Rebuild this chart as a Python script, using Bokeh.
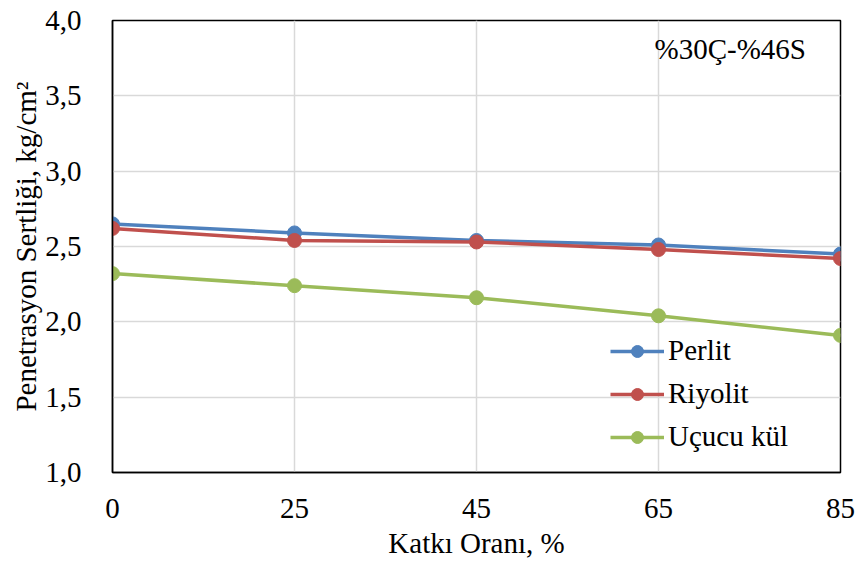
from bokeh.plotting import figure
from bokeh.models import Label, FixedTicker, Legend, LegendItem, Range1d
from bokeh.embed import file_html
from bokeh.resources import INLINE

categories = ["0", "25", "45", "65", "85"]
perlit = [2.65, 2.59, 2.54, 2.51, 2.45]
riyolit = [2.62, 2.54, 2.53, 2.48, 2.42]
ucucu_kul = [2.32, 2.24, 2.16, 2.04, 1.91]
y_ticks = [1.0, 1.5, 2.0, 2.5, 3.0, 3.5, 4.0]
y_tick_labels = ["1,0", "1,5", "2,0", "2,5", "3,0", "3,5", "4,0"]
series_names = ["Perlit", "Riyolit", "Uçucu kül"]
colors = ["#4F81BD", "#C0504D", "#9BBB59"]

FONT = "Liberation Serif"
xs = list(range(len(categories)))

p = figure(width=855, height=563, output_backend="svg", toolbar_location=None,
           x_range=Range1d(0, len(categories) - 1), y_range=Range1d(1.0, 4.0),
           min_border_left=112, min_border_right=15, min_border_top=20, min_border_bottom=91)

items = []
for name, vals, c in zip(series_names, [perlit, riyolit, ucucu_kul], colors):
    r1 = p.line(xs, vals, line_color=c, line_width=3.5)
    r2 = p.scatter(xs, vals, size=14, fill_color=c, line_color=c)
    items.append(LegendItem(label=name, renderers=[r1, r2]))

legend = Legend(items=items, location=(498, 19), background_fill_alpha=0,
                border_line_alpha=0, label_text_font=FONT, label_text_font_size="29px",
                label_text_color="black",
                glyph_width=54, glyph_height=30, label_height=30, spacing=10,
                label_standoff=4, padding=0, margin=0)
p.add_layout(legend, "center")

p.xaxis.ticker = FixedTicker(ticks=xs)
p.xaxis.major_label_overrides = {i: c for i, c in enumerate(categories)}
p.yaxis.ticker = FixedTicker(ticks=y_ticks)
p.yaxis.major_label_overrides = {t: l for t, l in zip(y_ticks, y_tick_labels)}

for ax in (p.xaxis, p.yaxis):
    ax.major_tick_line_color = None
    ax.minor_tick_line_color = None
    ax.axis_line_color = "black"
    ax.axis_line_width = 1.5
    ax.major_label_text_font = FONT
    ax.major_label_text_font_size = "29px"
    ax.major_label_text_color = "black"
    ax.axis_label_text_font = FONT
    ax.axis_label_text_font_size = "29px"
    ax.axis_label_text_font_style = "normal"
    ax.axis_label_text_color = "black"

p.xaxis.major_label_standoff = 20
p.yaxis.major_label_standoff = 25
p.xaxis.axis_label = "Katkı Oranı, %"
p.yaxis.axis_label = "Penetrasyon Sertliği, kg/cm²"
p.xaxis.axis_label_standoff = 6
p.yaxis.axis_label_standoff = 0

p.xgrid.ticker = FixedTicker(ticks=xs)
p.ygrid.ticker = FixedTicker(ticks=y_ticks)
p.grid.grid_line_color = "#D9D9D9"
p.grid.grid_line_width = 1.5

p.outline_line_color = "black"
p.outline_line_width = 1.5
p.outline_line_alpha = 1

p.add_layout(Label(x=3.81, y=3.81, text="%30Ç-%46S", text_align="right",
                   text_baseline="middle", text_font=FONT, text_font_size="29px",
                   text_color="black"))

open("out.html", "w").write(file_html(p, INLINE))
